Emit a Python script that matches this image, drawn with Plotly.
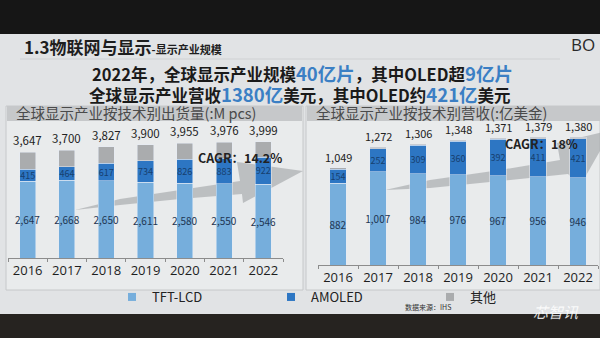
import plotly.graph_objects as go

years = ["2016", "2017", "2018", "2019", "2020", "2021", "2022"]
ship_total = [3647, 3700, 3827, 3900, 3955, 3976, 3999]
ship_tft = [2647, 2668, 2650, 2611, 2580, 2550, 2546]
ship_amoled = [415, 464, 617, 734, 826, 883, 922]
ship_other = [t - a - b for t, a, b in zip(ship_total, ship_tft, ship_amoled)]

rev_total = [1049, 1272, 1306, 1348, 1371, 1379, 1380]
rev_tft = [882, 1007, 984, 976, 967, 956, 946]
rev_amoled = [154, 252, 309, 360, 392, 411, 421]
rev_other = [t - a - b for t, a, b in zip(rev_total, rev_tft, rev_amoled)]

series_names = ["TFT-LCD", "AMOLED", "其他"]
C_TFT = "#76aedc"
C_AMO = "#2d76c3"
C_OTH = "#aaacae"
colors = [C_TFT, C_AMO, C_OTH]
FONT = "Noto Sans CJK SC, Noto Sans, sans-serif"

W, H = 600, 338
def px(x):
    return x / W
def py(y):
    return 1 - y / H

fig = go.Figure()

def add_stack(tft, amo, oth, xa, ya):
    fig.add_trace(go.Bar(x=years, y=tft, name="TFT-LCD", marker_color=C_TFT,
                         showlegend=False, xaxis=xa, yaxis=ya,
                         texttemplate="%{y:,.0f}", textposition="inside",
                         insidetextanchor="middle", textangle=0, constraintext="none",
                         textfont=dict(size=10, color="#1e3653", family=FONT)))
    fig.add_trace(go.Bar(x=years, y=amo, name="AMOLED", marker_color=C_AMO,
                         showlegend=False, xaxis=xa, yaxis=ya,
                         texttemplate="%{y:,.0f}", textposition="inside",
                         insidetextanchor="middle", textangle=0, constraintext="none",
                         textfont=dict(size=9, color="#17406f", family=FONT)))
    fig.add_trace(go.Bar(x=years, y=oth, name="其他", marker_color=C_OTH,
                         showlegend=False, xaxis=xa, yaxis=ya, textposition="none"))

add_stack(ship_tft, ship_amoled, ship_other, "x", "y")
add_stack(rev_tft, rev_amoled, rev_other, "x2", "y2")

# legend-only entries with small square swatches
for name, col in zip(series_names, colors):
    fig.add_trace(go.Scatter(x=[None], y=[None], mode="markers", name=name,
                             marker=dict(symbol="square", size=8, color=col),
                             xaxis="x", yaxis="y", showlegend=True))

annotations = []
for i, t in enumerate(ship_total):
    annotations.append(dict(x=i, y=t, xref="x", yref="y", text=f"{t:,}", showarrow=False,
                            yanchor="bottom", yshift=2,
                            font=dict(size=11.5, color="#222", family=FONT)))
for i, t in enumerate(rev_total):
    annotations.append(dict(x=i, y=t, xref="x2", yref="y2", text=f"{t:,}", showarrow=False,
                            yanchor="bottom", yshift=1,
                            font=dict(size=11, color="#222", family=FONT)))

blue = "#3b7fc4"
annotations += [
    dict(x=px(22), y=py(47), xref="paper", yref="paper", xanchor="left", yanchor="middle",
         showarrow=False,
         text="<b>1.3物联网与显示</b><b><span style='font-size:11px'>-显示产业规模</span></b>",
         font=dict(size=17, color="#1e1e1e", family=FONT)),
    dict(x=px(597), y=py(44), xref="paper", yref="paper", xanchor="right", yanchor="middle",
         showarrow=False, text="BO", font=dict(size=17, color="#2a2a2a", family="Open Sans")),
    dict(x=px(302), y=py(72.5), xref="paper", yref="paper", xanchor="center", yanchor="middle",
         showarrow=False,
         text=("<b>2022年，全球显示产业规模<span style='color:%s;font-size:18.5px'>40亿片</span>"
               "，其中OLED超<span style='color:%s;font-size:18.5px'>9亿片</span></b>") % (blue, blue),
         font=dict(size=16.5, color="#1a1a1a", family=FONT)),
    dict(x=px(300), y=py(94.5), xref="paper", yref="paper", xanchor="center", yanchor="middle",
         showarrow=False,
         text=("<b>全球显示产业营收<span style='color:%s;font-size:18.5px'>1380亿</span>"
               "美元，其中OLED约<span style='color:%s;font-size:18.5px'>421亿</span>美元</b>") % (blue, blue),
         font=dict(size=16.5, color="#1a1a1a", family=FONT)),
    dict(x=px(14), y=py(112), xref="paper", yref="paper", xanchor="left", yanchor="middle",
         showarrow=False, text="全球显示产业按技术别出货量(:M pcs)",
         font=dict(size=14.5, color="#4a4a4a", family=FONT)),
    dict(x=px(314), y=py(112), xref="paper", yref="paper", xanchor="left", yanchor="middle",
         showarrow=False, text="全球显示产业按技术别营收(:亿美金)",
         font=dict(size=14.5, color="#4a4a4a", family=FONT)),
    dict(x=px(240), y=py(157), xref="paper", yref="paper", xanchor="center", yanchor="middle",
         showarrow=False, text="<b>CAGR：14.2%</b>",
         font=dict(size=12.5, color="#222", family=FONT)),
    dict(x=px(541), y=py(143), xref="paper", yref="paper", xanchor="center", yanchor="middle",
         showarrow=False, text="<b>CAGR：18%</b>",
         font=dict(size=12.5, color="#222", family=FONT)),
    dict(x=px(428), y=py(307), xref="paper", yref="paper", xanchor="center", yanchor="middle",
         showarrow=False, text="数据来源：IHS",
         font=dict(size=7, color="#333", family=FONT)),
    dict(x=px(556), y=py(311), xref="paper", yref="paper", xanchor="center", yanchor="middle",
         showarrow=False, text="<i>芯智讯</i>",
         font=dict(size=15, color="rgba(255,255,255,0.85)", family=FONT)),
]

def rect(x0, y0, x1, y1, fill, line=None, layer="below"):
    return dict(type="rect", xref="paper", yref="paper", x0=px(x0), x1=px(x1), y0=py(y1), y1=py(y0),
                fillcolor=fill, line=dict(width=1 if line else 0, color=line or fill), layer=layer)

def poly(points, fill, layer="below"):
    path = "M " + " L ".join(f"{px(a):.4f},{py(b):.4f}" for a, b in points) + " Z"
    return dict(type="path", xref="paper", yref="paper", path=path, fillcolor=fill,
                line=dict(width=0), layer=layer)

shapes = [
    rect(0, 0, 600, 34, "#161616", layer="above"),
    rect(0, 314, 600, 338, "#262320", layer="above"),
    dict(type="line", xref="paper", yref="paper", x0=px(20), x1=px(560), y0=py(59), y1=py(59),
         line=dict(color="#cfd1d3", width=1), layer="below"),
    rect(6, 106, 303, 290, "#e9ebec", line="#c6c8ca"),
    rect(306, 106, 600, 290, "#e9ebec", line="#c6c8ca"),
    rect(7, 106, 302, 121, "#c6c8ca"),
    rect(307, 106, 600, 121, "#c6c8ca"),
    poly([(75, 210), (120, 199), (180, 190), (240, 181), (237, 162), (303, 171),
          (243, 203), (242, 194), (180, 199), (120, 205)], "rgba(165,167,170,0.65)"),
    poly([(385, 190), (430, 180), (500, 170), (560, 160), (557, 143), (612, 130),
          (580, 186), (568, 174), (500, 181), (430, 188)], "rgba(165,167,170,0.65)"),
]

axis_common = dict(type="category", range=[-0.5, 6.5], showgrid=False, showline=True,
                   linecolor="#8c8c8c", ticks="outside", tickson="boundaries", ticklen=3,
                   tickcolor="#8c8c8c", tickangle=0,
                   tickfont=dict(size=13, color="#1e1e1e", family="Open Sans"))
yaxis_common = dict(showgrid=False, showticklabels=False, zeroline=False, showline=False)

fig.update_layout(
    width=W, height=H, margin=dict(l=0, r=0, t=0, b=0),
    paper_bgcolor="#e1e3e5", plot_bgcolor="rgba(0,0,0,0)",
    barmode="stack", bargap=0.59,
    font=dict(family=FONT),
    xaxis=dict(domain=[px(8), px(283)], anchor="y", **axis_common),
    yaxis=dict(domain=[py(258), py(122)], range=[0, 4680], anchor="x", **yaxis_common),
    xaxis2=dict(domain=[px(318), px(598)], anchor="y2", **axis_common),
    yaxis2=dict(domain=[py(265), py(122)], range=[0, 1546], anchor="x2", **yaxis_common),
    legend=dict(orientation="h", x=px(112), xanchor="left", y=py(297), yanchor="middle",
                entrywidth=114, entrywidthmode="pixels", itemwidth=30,
                font=dict(size=13, color="#222", family=FONT), bgcolor="rgba(0,0,0,0)",
                traceorder="normal"),
    annotations=annotations,
    shapes=shapes,
)

fig.write_html("out.html")
